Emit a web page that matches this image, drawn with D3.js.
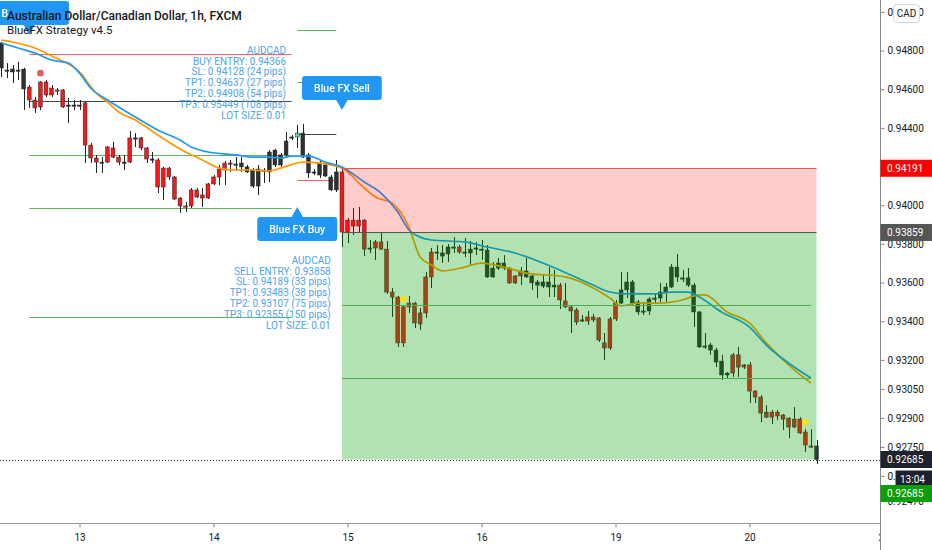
<!DOCTYPE html>
<html>
<head>
<meta charset="utf-8">
<script src="https://cdn.jsdelivr.net/npm/d3@7"></script>
<style>
  html, body { margin: 0; padding: 0; background: #fff; }
  svg { display: block; font-family: Roboto, "Liberation Sans", sans-serif; }
</style>
</head>
<body>
<svg id="chart"></svg>
<script>
const width = 932;
const height = 550;

const title = 'Australian Dollar/Canadian Dollar, 1h, FXCM';
const subtitle = 'BlueFX Strategy v4.5';
const currency = 'CAD';
const countdown = '13:04';

// hours counted from the 12th 00:00, weekend removed
const firstBarHour = 10;
const dayLabels = ['13', '14', '15', '16', '19', '20', '21'];
const dayHours = [24, 48, 72, 96, 120, 144, 168];

const priceTicks = [0.95, 0.948, 0.946, 0.944, 0.94, 0.938, 0.936, 0.934, 0.932,
    0.9305, 0.929, 0.9275, 0.926, 0.9247];

// [open, high, low, close], one per hour
const candles = [
    [0.94710,0.94844,0.94663,0.94839],[0.94699,0.94735,0.94658,0.94694],[0.94704,0.94725,0.94632,0.94689],
    [0.94699,0.94741,0.94647,0.94694],[0.94601,0.94710,0.94492,0.94704],[0.94611,0.94621,0.94503,0.94544],
    [0.94544,0.94560,0.94477,0.94503],[0.94637,0.94642,0.94492,0.94508],[0.94637,0.94647,0.94560,0.94570],
    [0.94606,0.94621,0.94560,0.94570],[0.94596,0.94606,0.94570,0.94591],[0.94596,0.94601,0.94503,0.94508],
    [0.94513,0.94555,0.94425,0.94518],[0.94513,0.94544,0.94492,0.94518],[0.94518,0.94544,0.94492,0.94513],
    [0.94529,0.94534,0.94218,0.94311],[0.94311,0.94322,0.94218,0.94244],[0.94244,0.94260,0.94167,0.94223],
    [0.94223,0.94249,0.94167,0.94218],[0.94301,0.94306,0.94218,0.94223],[0.94296,0.94327,0.94244,0.94249],
    [0.94249,0.94260,0.94208,0.94223],[0.94223,0.94260,0.94182,0.94218],[0.94348,0.94384,0.94218,0.94223],
    [0.94348,0.94373,0.94301,0.94342],[0.94348,0.94353,0.94285,0.94296],[0.94296,0.94301,0.94218,0.94239],
    [0.94239,0.94275,0.94218,0.94234],[0.94234,0.94244,0.94063,0.94094],[0.94192,0.94198,0.94027,0.94094],
    [0.94192,0.94198,0.94130,0.94146],[0.94146,0.94151,0.94027,0.94032],[0.94037,0.94042,0.93960,0.93996],
    [0.93996,0.94016,0.93965,0.93991],[0.94079,0.94089,0.93985,0.93996],[0.94079,0.94089,0.94037,0.94042],
    [0.94053,0.94089,0.93991,0.94037],[0.94110,0.94115,0.94032,0.94037],[0.94146,0.94156,0.94104,0.94110],
    [0.94187,0.94208,0.94104,0.94146],[0.94218,0.94229,0.94104,0.94182],[0.94218,0.94234,0.94172,0.94213],
    [0.94213,0.94249,0.94177,0.94208],[0.94198,0.94249,0.94172,0.94218],[0.94172,0.94208,0.94167,0.94198],
    [0.94099,0.94192,0.94089,0.94182],[0.94099,0.94208,0.94053,0.94187],[0.94177,0.94192,0.94115,0.94182],
    [0.94172,0.94285,0.94120,0.94275],[0.94208,0.94291,0.94198,0.94285],[0.94208,0.94270,0.94198,0.94260],
    [0.94260,0.94379,0.94244,0.94332],[0.94348,0.94363,0.94337,0.94353],[0.94353,0.94415,0.94296,0.94373],
    [0.94249,0.94420,0.94244,0.94373],[0.94260,0.94270,0.94141,0.94167],[0.94172,0.94187,0.94156,0.94167],
    [0.94156,0.94234,0.94141,0.94218],[0.94151,0.94223,0.94146,0.94208],[0.94146,0.94156,0.94073,0.94079],
    [0.94079,0.94234,0.94068,0.94172],[0.94172,0.94192,0.93784,0.93861],[0.93923,0.93934,0.93804,0.93861],
    [0.93923,0.93985,0.93846,0.93892],[0.93923,0.93991,0.93861,0.93892],[0.93923,0.93928,0.93737,0.93773],
    [0.93779,0.93820,0.93753,0.93773],[0.93810,0.93820,0.93717,0.93779],[0.93810,0.93861,0.93768,0.93773],
    [0.93773,0.93815,0.93541,0.93551],[0.93551,0.93572,0.93422,0.93525],[0.93525,0.93531,0.93267,0.93288],
    [0.93474,0.93479,0.93267,0.93288],[0.93494,0.93531,0.93443,0.93474],[0.93494,0.93500,0.93365,0.93391],
    [0.93443,0.93469,0.93355,0.93386],[0.93629,0.93655,0.93417,0.93443],[0.93758,0.93779,0.93572,0.93629],
    [0.93758,0.93794,0.93717,0.93753],[0.93737,0.93794,0.93701,0.93753],[0.93748,0.93799,0.93706,0.93784],
    [0.93784,0.93835,0.93753,0.93779],[0.93784,0.93794,0.93748,0.93758],[0.93753,0.93830,0.93732,0.93758],
    [0.93753,0.93815,0.93691,0.93773],[0.93773,0.93810,0.93742,0.93779],[0.93773,0.93820,0.93717,0.93768],
    [0.93629,0.93794,0.93624,0.93768],[0.93629,0.93706,0.93624,0.93675],[0.93675,0.93727,0.93665,0.93701],
    [0.93675,0.93742,0.93665,0.93701],[0.93675,0.93680,0.93593,0.93598],[0.93634,0.93639,0.93593,0.93598],
    [0.93660,0.93680,0.93587,0.93634],[0.93629,0.93727,0.93624,0.93660],[0.93598,0.93639,0.93562,0.93634],
    [0.93587,0.93613,0.93520,0.93603],[0.93582,0.93644,0.93572,0.93603],[0.93577,0.93680,0.93525,0.93603],
    [0.93577,0.93665,0.93525,0.93587],[0.93587,0.93598,0.93463,0.93510],[0.93505,0.93598,0.93469,0.93474],
    [0.93474,0.93484,0.93339,0.93453],[0.93458,0.93469,0.93381,0.93396],[0.93407,0.93432,0.93396,0.93401],
    [0.93422,0.93453,0.93381,0.93401],[0.93422,0.93438,0.93396,0.93407],[0.93417,0.93422,0.93293,0.93303],
    [0.93288,0.93339,0.93200,0.93262],[0.93412,0.93422,0.93251,0.93262],[0.93494,0.93510,0.93401,0.93412],
    [0.93494,0.93655,0.93489,0.93562],[0.93562,0.93655,0.93520,0.93603],[0.93494,0.93613,0.93484,0.93603],
    [0.93448,0.93510,0.93432,0.93500],[0.93453,0.93500,0.93432,0.93448],[0.93453,0.93525,0.93432,0.93515],
    [0.93520,0.93546,0.93494,0.93515],[0.93520,0.93598,0.93500,0.93551],[0.93551,0.93598,0.93500,0.93577],
    [0.93577,0.93696,0.93572,0.93680],[0.93629,0.93748,0.93603,0.93680],[0.93624,0.93665,0.93603,0.93618],
    [0.93624,0.93675,0.93577,0.93587],[0.93587,0.93598,0.93370,0.93448],[0.93448,0.93453,0.93262,0.93267],
    [0.93272,0.93339,0.93257,0.93267],[0.93277,0.93288,0.93226,0.93251],[0.93251,0.93262,0.93163,0.93189],
    [0.93194,0.93226,0.93096,0.93122],[0.93132,0.93137,0.93106,0.93122],[0.93226,0.93236,0.93112,0.93132],
    [0.93226,0.93267,0.93112,0.93163],[0.93174,0.93179,0.93153,0.93163],[0.93174,0.93189,0.92977,0.93039],
    [0.93039,0.93044,0.92977,0.93008],[0.93008,0.93018,0.92878,0.92925],[0.92930,0.92966,0.92899,0.92904],
    [0.92930,0.92941,0.92868,0.92904],[0.92930,0.92941,0.92889,0.92910],[0.92915,0.92920,0.92838,0.92894],
    [0.92899,0.92904,0.92796,0.92853],[0.92894,0.92956,0.92847,0.92853],[0.92894,0.92904,0.92817,0.92822],
    [0.92827,0.92842,0.92724,0.92760],[0.92755,0.92842,0.92744,0.92749],[0.92755,0.92786,0.92662,0.92685]
];

// strategy state of each bar: S = sell bias, B = buy bias, G = buy signal bar
const barSignal =
    'BBBBBSSSSSSSBBBSSSBSSSBSBSSBSSSSSSSSSSSSSSBBBBBBBBBBBGBBBBBBB' +
    'SSSSSBSSSSSSSSSSSBBBBSBBBBBBBBSSSBBBBBBSSSSBSSSSSSBBBBBBBBBBBBBBBBBBBBSSSSSSSSSSSSSSSB';

// [bar, price]
const emaFast = [[0,0.94839],[3,0.94813],[6,0.94787],[9,0.94751],[12,0.94735],[14,0.94683],[16,0.94606],
    [19,0.94544],[21,0.94508],[24,0.94456],[28,0.94389],[32,0.94337],[34,0.94301],[37,0.94275],[42,0.94260],
    [45,0.94249],[48,0.94249],[50,0.94244],[52,0.94254],[55,0.94254],[58,0.94223],[61,0.94198],[65,0.94120],
    [68,0.94063],[71,0.93965],[73,0.93872],[75,0.93835],[77,0.93820],[83,0.93810],[87,0.93784],[92,0.93753],
    [97,0.93701],[102,0.93639],[106,0.93587],[109,0.93551],[112,0.93541],[117,0.93541],[120,0.93551],
    [123,0.93551],[125,0.93525],[129,0.93448],[134,0.93370],[137,0.93277],[141,0.93184],[145,0.93106]];
const emaSlow = [[0,0.94854],[2,0.94844],[6,0.94813],[9,0.94772],[14,0.94689],[17,0.94580],[19,0.94534],
    [21,0.94482],[24,0.94441],[28,0.94363],[33,0.94275],[36,0.94234],[39,0.94192],[42,0.94182],[45,0.94182],
    [48,0.94177],[50,0.94192],[54,0.94223],[57,0.94218],[61,0.94192],[65,0.94089],[67,0.94042],[70,0.94011],
    [73,0.93887],[75,0.93732],[77,0.93691],[79,0.93660],[83,0.93680],[86,0.93701],[90,0.93680],[94,0.93649],
    [101,0.93629],[106,0.93572],[109,0.93520],[111,0.93479],[114,0.93494],[118,0.93494],[122,0.93510],
    [125,0.93536],[126,0.93536],[130,0.93448],[134,0.93391],[137,0.93288],[142,0.93148],[145,0.93080]];

// trade levels drawn by the strategy
const signalBars = [5, 53, 61];
const signalEnds = [52, 60, 145];
const stopLevels = [0.94782, 0.94128, 0.94189];
const entryLevels = [0.94539, 0.94366, 0.93858];
const targetLevels = [[0.94262, 0.93983, 0.93420], [0.94637, 0.94908, 0.95449], [0.93483, 0.93107, 0.92355]];

// axis tags of the open position box
const boxTop = 0.94191;
const boxEntry = 0.93859;

const buyInfo = ['AUDCAD', 'BUY ENTRY: 0.94366', 'SL: 0.94128 (24 pips)', 'TP1: 0.94637 (27 pips)',
    'TP2: 0.94908 (54 pips)', 'TP3: 0.95449 (108 pips)', 'LOT SIZE: 0.01'];
const sellInfo = ['AUDCAD', 'SELL ENTRY: 0.93858', 'SL: 0.94189 (33 pips)', 'TP1: 0.93483 (38 pips)',
    'TP2: 0.93107 (75 pips)', 'TP3: 0.92355 (150 pips)', 'LOT SIZE: 0.01'];
const infoBars = [51, 59];
const infoPrices = [0.94634, 0.93548];

const calloutText = ['Blue FX Sell', 'Blue FX Sell', 'Blue FX Buy'];
const calloutBars = [5, 61, 53];
const calloutPrices = [0.94880, 0.94492, 0.93991];
const calloutDir = ['down', 'down', 'up'];

const dotBars = [7, 72, 144];
const dotPrices = [0.94683, 0.93515, 0.92878];
const dotKinds = ['sell', 'tp', 'tp'];

const lastPrice = candles[candles.length - 1][3];

const plotW = 880;
const plotH = 523;

const svg = d3.select('#chart')
    .attr('width', width)
    .attr('height', height);

const x = d3.scaleLinear().domain([24, 144]).range([79.5, 749.5]);
const bx = i => x(firstBarHour + i);
const y = d3.scaleLinear().domain([0.92685, 0.948]).range([459.5, 50.5]);
const crisp = v => Math.round(v) + 0.5;
const fmt = d3.format('.5f');

svg.append('rect').attr('width', width).attr('height', height).attr('fill', '#fff');
const defs = svg.append('defs');
defs.append('clipPath').attr('id', 'plotClip')
    .append('rect').attr('width', plotW).attr('height', plotH);
const plot = svg.append('g').attr('clip-path', 'url(#plotClip)');

// level lines of the older signals
const levelLines = (g, s) => {
    const rows = [{v: stopLevels[s], c: '#ef6262'}, {v: entryLevels[s], c: '#4a4a4a'}]
        .concat(targetLevels[s].map(v => ({v, c: '#5cb85c'})));
    g.selectAll(null).data(rows).enter().append('line')
        .attr('x1', bx(signalBars[s])).attr('x2', bx(signalEnds[s]))
        .attr('y1', d => crisp(y(d.v))).attr('y2', d => crisp(y(d.v)))
        .attr('stroke', d => d.c).attr('stroke-width', 1);
};
levelLines(plot, 0);
levelLines(plot, 1);

// candles
const bodyFill = {S: '#f21b1b', B: '#2c3134', G: '#5ed6a5'};
const bars = plot.append('g').selectAll('g').data(candles).enter().append('g');
bars.append('line')
    .attr('x1', (d, i) => crisp(bx(i))).attr('x2', (d, i) => crisp(bx(i)))
    .attr('y1', d => y(d[1])).attr('y2', d => y(d[2]))
    .attr('stroke', '#222').attr('stroke-width', 1);
bars.append('rect')
    .attr('x', (d, i) => bx(i) - 1.9)
    .attr('width', 3.8)
    .attr('y', d => y(Math.max(d[0], d[3])))
    .attr('height', d => Math.max(1.2, Math.abs(y(d[0]) - y(d[3]))))
    .attr('fill', (d, i) => bodyFill[barSignal[i]])
    .attr('stroke', '#222').attr('stroke-width', 0.5);

// moving averages
const emaLine = d3.line().x(d => bx(d[0])).y(d => y(d[1])).curve(d3.curveMonotoneX);
plot.append('path').attr('d', emaLine(emaSlow)).attr('fill', 'none')
    .attr('stroke', '#ff9800').attr('stroke-width', 1.7);
plot.append('path').attr('d', emaLine(emaFast)).attr('fill', 'none')
    .attr('stroke', '#2196f3').attr('stroke-width', 1.7);

// open sell position box
const boxX0 = bx(signalBars[2]);
const boxX1 = bx(candles.length - 1);
plot.append('rect')
    .attr('x', boxX0).attr('width', boxX1 - boxX0)
    .attr('y', y(boxTop)).attr('height', y(boxEntry) - y(boxTop))
    .attr('fill', 'rgba(255,0,0,0.2)');
plot.append('rect')
    .attr('x', boxX0).attr('width', boxX1 - boxX0)
    .attr('y', y(boxEntry)).attr('height', y(lastPrice) - y(boxEntry))
    .attr('fill', 'rgba(0,160,0,0.3)');
plot.append('line').attr('x1', boxX0).attr('x2', boxX1)
    .attr('y1', crisp(y(boxTop))).attr('y2', crisp(y(boxTop)))
    .attr('stroke', '#ef5350');
plot.append('line').attr('x1', boxX0).attr('x2', boxX1)
    .attr('y1', crisp(y(boxEntry))).attr('y2', crisp(y(boxEntry)))
    .attr('stroke', '#555');
plot.selectAll(null).data(targetLevels[2]).enter().append('line')
    .attr('x1', boxX0).attr('x2', bx(signalEnds[2]))
    .attr('y1', d => crisp(y(d))).attr('y2', d => crisp(y(d)))
    .attr('stroke', '#4caf50');

// current price line
plot.append('line').attr('x1', 0).attr('x2', plotW)
    .attr('y1', crisp(y(lastPrice))).attr('y2', crisp(y(lastPrice)))
    .attr('stroke', '#333').attr('stroke-dasharray', '1,2');

// signal dots
plot.selectAll(null).data(dotBars).enter().append('circle')
    .attr('cx', d => bx(d)).attr('cy', (d, i) => y(dotPrices[i])).attr('r', 3.3)
    .attr('fill', (d, i) => dotKinds[i] === 'sell' ? '#e35d5d' : '#f5e11c');

// info blocks
[buyInfo, sellInfo].forEach((lines, k) => {
    const cy = y(infoPrices[k]);
    plot.append('g').selectAll('text').data(lines).enter().append('text')
        .attr('x', bx(infoBars[k])).attr('y', (d, i) => cy + (i - 3) * 10.8)
        .attr('dy', '0.35em').attr('text-anchor', 'end')
        .attr('font-size', 10).attr('fill', '#4ea4e8')
        .text(d => d);
});

// legend first, so the callout text can be masked beneath it
const legend = svg.append('g');
const titleText = legend.append('text').attr('x', 7).attr('y', 19.5)
    .attr('font-size', 12).attr('font-weight', 500).attr('fill', '#131722')
    .text(title);
legend.append('text').attr('x', 7).attr('y', 33.5)
    .attr('font-size', 11.5).attr('fill', '#131722')
    .text(subtitle);
const legendW = titleText.node().getComputedTextLength();
const mask = defs.append('mask').attr('id', 'legendMask')
    .attr('maskUnits', 'userSpaceOnUse').attr('x', 0).attr('y', 0).attr('width', width).attr('height', height);
mask.append('rect').attr('width', width).attr('height', height).attr('fill', '#fff');
mask.append('rect').attr('x', 8).attr('y', 6).attr('width', legendW).attr('height', 32).attr('fill', '#000');

// callouts
const callouts = plot.append('g');
calloutText.forEach((txt, k) => {
    const cx = bx(calloutBars[k]);
    const ty = y(calloutPrices[k]);
    const g = callouts.append('g');
    const t = g.append('text').text(txt)
        .attr('font-size', 10.5).attr('font-weight', 500).attr('fill', '#fff')
        .attr('text-anchor', 'middle')
        .attr('mask', 'url(#legendMask)');
    const w = t.node().getComputedTextLength() + 24;
    const h = 24;
    const down = calloutDir[k] === 'down';
    const by = down ? ty - 10 - h : ty + 10;
    g.insert('rect', 'text').attr('x', cx - w / 2).attr('y', by).attr('width', w).attr('height', h)
        .attr('rx', 3).attr('fill', '#2196f3');
    const base = down ? ty - 10.5 : ty + 10.5;
    g.insert('path', 'text').attr('d', `M${cx - 6},${base}L${cx + 6},${base}L${cx},${ty}Z`)
        .attr('fill', '#2196f3');
    t.attr('x', cx).attr('y', by + h / 2).attr('dy', '0.35em');
});
legend.raise();

// time axis
const xAxis = svg.append('g').attr('transform', `translate(0,${plotH + 0.5})`)
    .call(d3.axisBottom(x).tickValues(dayHours).tickFormat((d, i) => dayLabels[i])
        .tickSize(4).tickPadding(6));
xAxis.select('.domain').remove();
xAxis.selectAll('line').attr('stroke', '#888');
xAxis.selectAll('text').attr('font-size', 10).attr('font-family', 'Roboto').attr('fill', '#131722');
svg.append('line').attr('x1', 0).attr('x2', plotW).attr('y1', plotH + 0.5).attr('y2', plotH + 0.5)
    .attr('stroke', '#999');

// price axis
svg.append('rect').attr('x', plotW + 0.5).attr('y', 0).attr('width', width - plotW).attr('height', height)
    .attr('fill', '#fff');
const yAxis = svg.append('g').attr('transform', `translate(${plotW + 0.5},0)`)
    .call(d3.axisRight(y).tickValues(priceTicks).tickFormat(fmt).tickSize(4).tickPadding(3));
yAxis.select('.domain').remove();
yAxis.selectAll('line').attr('stroke', '#888');
yAxis.selectAll('text').attr('font-size', 10).attr('font-family', 'Roboto').attr('fill', '#131722');
svg.append('line').attr('x1', plotW + 0.5).attr('x2', plotW + 0.5).attr('y1', 0).attr('y2', height)
    .attr('stroke', '#888');

// price tags on the axis
const tagText = [fmt(boxTop), fmt(boxEntry), fmt(lastPrice), countdown, fmt(lastPrice)];
const tagPrice = [boxTop, boxEntry, lastPrice, lastPrice, lastPrice];
const tagShift = [0, 0, 0, 19.5, 34];
const tagLeft = [plotW, plotW, plotW, 895, plotW];
const tagFill = ['#ff0000', '#555555', '#1e222d', '#1e222d', '#0a9e0a'];
tagText.forEach((txt, k) => {
    const cy = y(tagPrice[k]) + tagShift[k];
    svg.append('rect').attr('x', tagLeft[k] + 0.5).attr('y', cy - 8.5)
        .attr('width', width - tagLeft[k]).attr('height', 17).attr('fill', tagFill[k]);
    svg.append('text').attr('x', tagLeft[k] + (k === 3 ? 5 : 7)).attr('y', cy).attr('dy', '0.35em')
        .attr('font-size', 10).attr('fill', '#fff').text(txt);
});

// currency button
svg.append('rect').attr('x', 893.5).attr('y', 4.5).attr('width', 26).attr('height', 18).attr('rx', 3)
    .attr('fill', '#fff').attr('stroke', '#d1d4dc');
svg.append('text').attr('x', 906.5).attr('y', 13.5).attr('dy', '0.35em').attr('text-anchor', 'middle')
    .attr('font-size', 10).attr('fill', '#131722').text(currency);
</script>
</body>
</html>
